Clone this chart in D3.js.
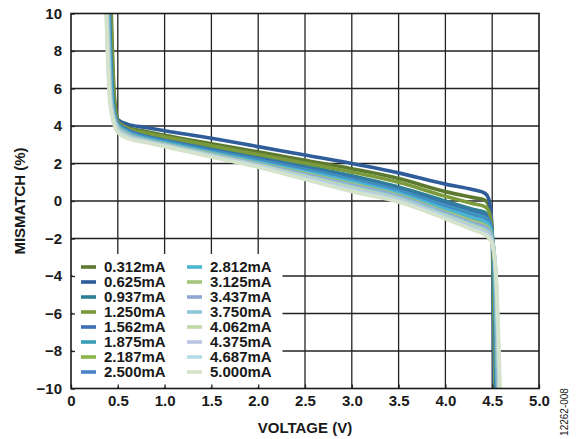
<!DOCTYPE html>
<html>
<head>
<meta charset="utf-8">
<script src="https://cdn.jsdelivr.net/npm/d3@7"></script>
<style>
  html, body { margin: 0; padding: 0; background: #fff; }
  svg { display: block; }
  text { font-family: "Liberation Sans", Arial, sans-serif; font-weight: bold; fill: #1a1a1a; }
  text.note { font-weight: normal; }
</style>
</head>
<body>
<svg id="chart" width="578" height="439"></svg>
<script>
// ---------------- DATA ----------------
const currents = ["0.312mA","0.625mA","0.937mA","1.250mA","1.562mA","1.875mA","2.187mA","2.500mA",
                  "2.812mA","3.125mA","3.437mA","3.750mA","4.062mA","4.375mA","4.687mA","5.000mA"];
const palette = ["#5b7a30","#2f5d9a","#2e8095","#7a9a3c","#3f6fb5","#3a9db5","#8db64a","#4a82c8",
                 "#4bb5d2","#a3c47a","#8fa6d2","#8ec7da","#c2d9aa","#b9c5e2","#b5dbe6","#d6e3cb"];
const xTicks = [0, 0.5, 1.0, 1.5, 2.0, 2.5, 3.0, 3.5, 4.0, 4.5, 5.0];
const yTicks = [-10, -8, -6, -4, -2, 0, 2, 4, 6, 8, 10];

// steep left part: voltage where mismatch = 10, 6, 5
const leftLevels = [10, 6, 5];
const leftVoltage = [
  [0.430, 0.458, 0.474], [0.420, 0.450, 0.466], [0.415, 0.445, 0.460], [0.425, 0.455, 0.470],
  [0.410, 0.440, 0.456], [0.405, 0.435, 0.452], [0.395, 0.425, 0.442], [0.400, 0.430, 0.447],
  [0.400, 0.430, 0.446], [0.390, 0.420, 0.438], [0.390, 0.420, 0.437], [0.385, 0.415, 0.432],
  [0.385, 0.414, 0.430], [0.380, 0.410, 0.427], [0.378, 0.408, 0.424], [0.375, 0.405, 0.421]
];

// main sloped region
const midVoltage = [0.5, 0.6, 0.8, 1.0, 1.5, 2.0, 2.5, 3.0, 3.5, 4.0, 4.3, 4.42];
const midMismatch = [
  [4.30, 3.95, 3.70, 3.50, 3.05, 2.62, 2.17, 1.72, 1.20, 0.50, 0.18, 0.05],   // 0.312
  [4.35, 4.10, 3.92, 3.75, 3.35, 2.90, 2.45, 2.00, 1.50, 0.90, 0.60, 0.42],   // 0.625
  [4.20, 3.85, 3.52, 3.30, 2.82, 2.35, 1.86, 1.35, 0.75, 0.00, -0.45, -0.60], // 0.937
  [4.25, 3.90, 3.62, 3.42, 2.95, 2.48, 2.02, 1.55, 1.00, 0.25, -0.15, -0.30], // 1.250
  [4.15, 3.80, 3.45, 3.22, 2.72, 2.25, 1.75, 1.22, 0.62, -0.15, -0.60, -0.78],// 1.562
  [4.10, 3.75, 3.40, 3.17, 2.67, 2.18, 1.68, 1.15, 0.55, -0.25, -0.70, -0.88],// 1.875
  [4.00, 3.64, 3.30, 3.07, 2.55, 2.04, 1.50, 0.95, 0.35, -0.50, -1.00, -1.20],// 2.187
  [4.05, 3.70, 3.36, 3.13, 2.62, 2.13, 1.62, 1.08, 0.47, -0.35, -0.82, -1.00],// 2.500
  [4.02, 3.67, 3.33, 3.10, 2.58, 2.08, 1.56, 1.02, 0.42, -0.42, -0.90, -1.10],// 2.812
  [3.97, 3.60, 3.27, 3.04, 2.52, 2.00, 1.46, 0.90, 0.30, -0.58, -1.10, -1.30],// 3.125
  [3.93, 3.57, 3.25, 3.02, 2.49, 1.97, 1.41, 0.84, 0.24, -0.65, -1.20, -1.40],// 3.437
  [3.88, 3.52, 3.22, 3.00, 2.46, 1.93, 1.35, 0.77, 0.17, -0.72, -1.28, -1.50],// 3.750
  [3.83, 3.48, 3.19, 2.97, 2.43, 1.90, 1.30, 0.70, 0.10, -0.80, -1.36, -1.60],// 4.062
  [3.78, 3.44, 3.17, 2.95, 2.40, 1.87, 1.25, 0.63, 0.05, -0.85, -1.43, -1.67],// 4.375
  [3.72, 3.40, 3.15, 2.93, 2.38, 1.84, 1.20, 0.57, 0.00, -0.90, -1.50, -1.74],// 4.687
  [3.65, 3.35, 3.12, 2.90, 2.35, 1.80, 1.15, 0.50, -0.05, -0.95, -1.55, -1.80]// 5.000
];

// steep right part: [voltage, mismatch] pairs
const rightPoints = [
  [[4.46, -0.20], [4.490, -1.00], [4.510, -3.0], [4.525, -10]],
  [[4.46,  0.15], [4.490, -0.80], [4.505, -3.0], [4.520, -10]],
  [[4.46, -0.80], [4.490, -1.40], [4.515, -3.2], [4.535, -10]],
  [[4.46, -0.50], [4.490, -1.20], [4.510, -3.0], [4.530, -10]],
  [[4.46, -0.95], [4.495, -1.60], [4.520, -3.3], [4.540, -10]],
  [[4.46, -1.05], [4.495, -1.70], [4.520, -3.3], [4.545, -10]],
  [[4.46, -1.35], [4.500, -1.95], [4.530, -3.6], [4.560, -10]],
  [[4.46, -1.15], [4.495, -1.80], [4.525, -3.4], [4.550, -10]],
  [[4.46, -1.25], [4.500, -1.90], [4.525, -3.5], [4.555, -10]],
  [[4.46, -1.45], [4.500, -2.00], [4.530, -3.6], [4.560, -10]],
  [[4.46, -1.55], [4.500, -2.05], [4.535, -3.7], [4.565, -10]],
  [[4.46, -1.65], [4.500, -2.10], [4.535, -3.8], [4.570, -10]],
  [[4.46, -1.75], [4.500, -2.15], [4.540, -3.9], [4.575, -10]],
  [[4.46, -1.80], [4.500, -2.20], [4.540, -4.0], [4.575, -10]],
  [[4.46, -1.88], [4.500, -2.25], [4.540, -4.0], [4.580, -10]],
  [[4.46, -1.95], [4.500, -2.30], [4.545, -4.2], [4.585, -10]]
];

// ---------------- CHART ----------------
const svg = d3.select("#chart");
const plot = { left: 71, right: 539, top: 13.5, bottom: 388.5 };
const x = d3.scaleLinear().domain([0, 5]).range([plot.left, plot.right]);
const y = d3.scaleLinear().domain([-10, 10]).range([plot.bottom, plot.top]);

svg.append("defs").append("clipPath").attr("id", "clip")
  .append("rect").attr("x", plot.left).attr("y", plot.top)
  .attr("width", plot.right - plot.left).attr("height", plot.bottom - plot.top);

// grid
const grid = svg.append("g").attr("stroke", "#222").attr("stroke-width", 1.3);
grid.selectAll("line.v").data(xTicks.slice(1, -1)).join("line")
  .attr("x1", d => x(d)).attr("x2", d => x(d)).attr("y1", plot.top).attr("y2", plot.bottom);
grid.selectAll("line.h").data(yTicks.slice(1, -1)).join("line")
  .attr("y1", d => y(d)).attr("y2", d => y(d)).attr("x1", plot.left).attr("x2", plot.right);

// series
const line = d3.line().x(d => x(d[0])).y(d => y(d[1])).curve(d3.curveMonotoneX);
const seriesPoints = currents.map((c, i) => {
  const pts = [];
  leftLevels.forEach((lv, j) => pts.push([leftVoltage[i][j], lv]));
  midVoltage.forEach((v, j) => pts.push([v, midMismatch[i][j]]));
  rightPoints[i].forEach(p => pts.push(p));
  return pts;
});
svg.append("g").attr("clip-path", "url(#clip)")
  .selectAll("path").data(seriesPoints).join("path")
  .attr("d", line).attr("fill", "none")
  .attr("stroke", (d, i) => palette[i]).attr("stroke-width", 3.6)
  .attr("stroke-linejoin", "round");

// legend background
const lg = svg.append("g");
lg.append("rect").attr("x", plot.left + 1.5).attr("y", 254).attr("width", 210).attr("height", plot.bottom - 255.5)
  .attr("fill", "#fff");
const rows = 8;
currents.forEach((c, i) => {
  const col = Math.floor(i / rows), row = i % rows;
  const cy = 267 + row * 15;
  const sx = col === 0 ? 81 : 187;
  lg.append("line").attr("x1", sx).attr("x2", sx + 15).attr("y1", cy).attr("y2", cy)
    .attr("stroke", palette[i]).attr("stroke-width", 3.6);
  lg.append("text").attr("x", sx + 23).attr("y", cy).attr("dy", "0.36em")
    .attr("font-size", 15).text(c);
});

// axes (inward ticks)
const xAxis = d3.axisBottom(x).tickValues(xTicks).tickSize(-4).tickPadding(7)
  .tickFormat(d => d === 0 ? "0" : d3.format(".1f")(d));
const gx = svg.append("g").attr("transform", `translate(0,${plot.bottom})`).call(xAxis);
const yAxis = d3.axisLeft(y).tickValues(yTicks).tickSize(-4).tickPadding(9)
  .tickFormat(d => d < 0 ? "\u2212" + Math.abs(d) : String(d));
const gy = svg.append("g").attr("transform", `translate(${plot.left},0)`).call(yAxis);
[gx, gy].forEach(g => {
  g.select(".domain").remove();
  g.selectAll(".tick line").attr("stroke", "#222").attr("stroke-width", 1.3);
  g.selectAll("text").attr("font-size", 15).attr("font-family", "Liberation Sans, Arial, sans-serif")
    .attr("font-weight", "bold").attr("fill", "#1a1a1a");
});

// frame
svg.append("rect").attr("x", plot.left).attr("y", plot.top)
  .attr("width", plot.right - plot.left).attr("height", plot.bottom - plot.top)
  .attr("fill", "none").attr("stroke", "#1a1a1a").attr("stroke-width", 1.6);

// titles
svg.append("text").attr("x", (plot.left + plot.right) / 2).attr("y", 433)
  .attr("text-anchor", "middle").attr("font-size", 15).text("VOLTAGE (V)");
svg.append("text").attr("transform", `translate(25,${(plot.top + plot.bottom) / 2}) rotate(-90)`)
  .attr("text-anchor", "middle").attr("font-size", 15).text("MISMATCH (%)");
svg.append("text").attr("class", "note").attr("transform", "translate(568,412) rotate(-90)")
  .attr("text-anchor", "middle").attr("font-size", 10).text("12262-008");
</script>
</body>
</html>
